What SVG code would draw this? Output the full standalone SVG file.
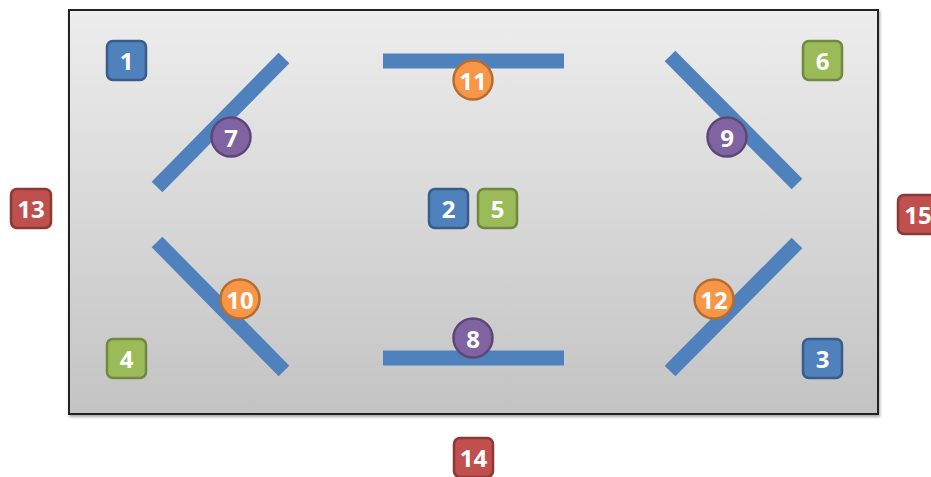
<svg xmlns="http://www.w3.org/2000/svg" width="931" height="477" viewBox="0 0 931 477">
<defs>
<linearGradient id="bg" x1="0" y1="0" x2="0" y2="1">
<stop offset="0" stop-color="#ededed"/>
<stop offset="1" stop-color="#c3c3c3"/>
</linearGradient>
<filter id="sh" x="-5%" y="-5%" width="110%" height="110%">
<feDropShadow dx="1" dy="2" stdDeviation="1.5" flood-color="#000" flood-opacity="0.35"/>
</filter>
</defs>
<style>
.bar{stroke:#4f81bd;stroke-width:15;fill:none}
.sq{stroke-width:2.5}
.blue{fill:#4f81bd;stroke:#385d8a}
.green{fill:#9bbb59;stroke:#71893f}
.red{fill:#c0504d;stroke:#8c3836}
.purple{fill:#8064a2;stroke:#5c4776;stroke-width:2.5}
.orange{fill:#f79646;stroke:#b66d31;stroke-width:2.5}
text{font-family:"Open Sans","Liberation Sans",sans-serif;font-weight:bold;font-size:24px;fill:#fff;text-anchor:middle;dominant-baseline:central}
</style>
<rect x="69" y="10" width="809" height="404" fill="url(#bg)" stroke="#222" stroke-width="2" filter="url(#sh)"/>
<g id="connectors">
<line class="bar" x1="157" y1="187" x2="284" y2="58"/>
<line class="bar" x1="157" y1="242" x2="284" y2="371"/>
<line class="bar" x1="670" y1="56" x2="797" y2="184"/>
<line class="bar" x1="797" y1="243" x2="670" y2="371"/>
<line class="bar" x1="383" y1="61" x2="564" y2="61"/>
<line class="bar" x1="383" y1="358" x2="564" y2="358"/>
</g>
<g id="n1"><rect class="sq blue" x="107" y="41" width="39" height="39" rx="6"/><text x="126.5" y="60">1</text></g>
<g id="n2"><rect class="sq blue" x="429" y="189" width="39" height="39" rx="6"/><text x="448.5" y="208">2</text></g>
<g id="n3"><rect class="sq blue" x="803" y="339" width="39" height="39" rx="6"/><text x="822.5" y="358">3</text></g>
<g id="n4"><rect class="sq green" x="107" y="339" width="39" height="39" rx="6"/><text x="126.5" y="358">4</text></g>
<g id="n5"><rect class="sq green" x="478" y="189" width="39" height="39" rx="6"/><text x="497.5" y="208">5</text></g>
<g id="n6"><rect class="sq green" x="803" y="41" width="39" height="39" rx="6"/><text x="822.5" y="60">6</text></g>
<g id="n7"><circle class="purple" cx="231" cy="137" r="19.5"/><text x="231" y="137">7</text></g>
<g id="n8"><circle class="purple" cx="473" cy="338" r="19.5"/><text x="473" y="338">8</text></g>
<g id="n9"><circle class="purple" cx="727" cy="137" r="19.5"/><text x="727" y="137">9</text></g>
<g id="n10"><circle class="orange" cx="240" cy="299" r="19.5"/><text x="240" y="299">10</text></g>
<g id="n11"><circle class="orange" cx="473" cy="80" r="19.5"/><text x="473" y="80">11</text></g>
<g id="n12"><circle class="orange" cx="714" cy="299" r="19.5"/><text x="714" y="299">12</text></g>
<g id="n13"><rect class="sq red" x="11" y="189" width="40" height="39" rx="6"/><text x="31" y="208">13</text></g>
<g id="n14"><rect class="sq red" x="454" y="438" width="39" height="39" rx="6"/><text x="473.5" y="457">14</text></g>
<g id="n15"><rect class="sq red" x="898" y="195" width="40" height="39" rx="6"/><text x="918" y="214">15</text></g>
</svg>
